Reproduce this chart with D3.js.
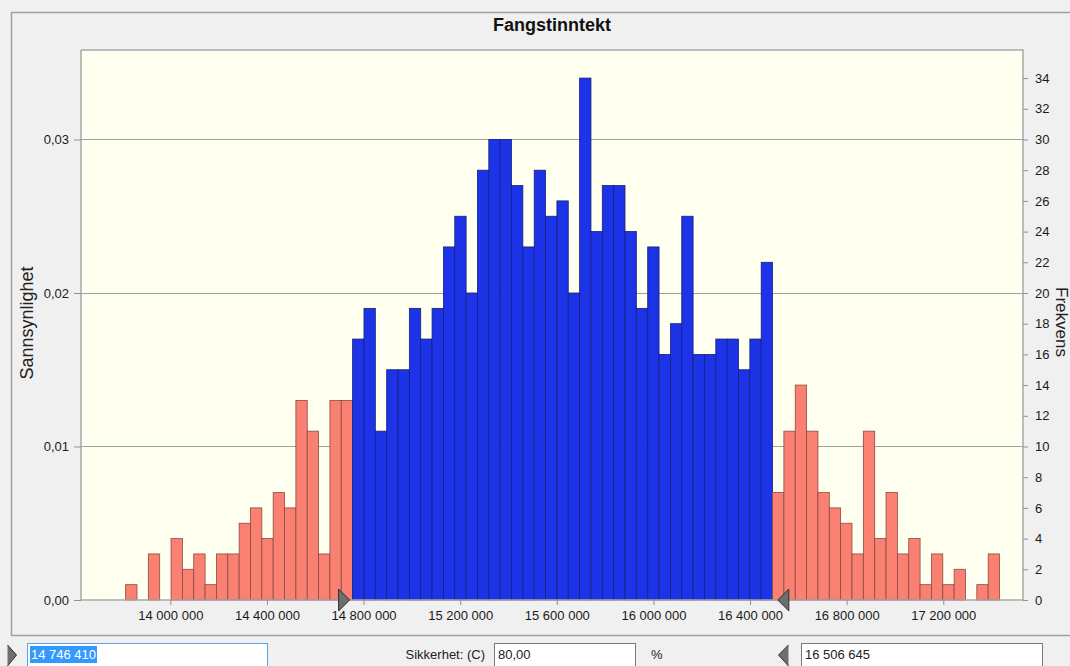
<!DOCTYPE html>
<html>
<head>
<meta charset="utf-8">
<script src="https://cdn.jsdelivr.net/npm/d3@7"></script>
<style>
  body { margin: 0; background: #f0f0f0; overflow: hidden; }
  svg { display: block; font-family: "Liberation Sans", Arial, sans-serif; }
</style>
</head>
<body>
<div id="chart"></div>
<script>
// histogram of 1000 simulated values
var counts = [
  1, 0, 3, 0, 4, 2, 3, 1, 3, 3, 5, 6, 4, 7, 6, 13, 11, 3, 13, 13,
  17, 19, 11, 15, 15, 19, 17, 19, 23, 25, 20, 28, 30, 30, 27, 23, 28, 25, 26, 20,
  34, 24, 27, 27, 24, 19, 23, 16, 18, 25, 16, 16, 17, 17, 15, 17, 22,
  7, 11, 14, 11, 7, 6, 5, 3, 11, 4, 7, 3, 4, 1, 3, 1, 2, 0, 1, 3
];
var binStart = 13815000,
    binWidth = 46985,
    nSamples = 1000;

var xTicks = [14000000, 14400000, 14800000, 15200000, 15600000, 16000000, 16400000, 16800000, 17200000];
var freqTicks = [0, 2, 4, 6, 8, 10, 12, 14, 16, 18, 20, 22, 24, 26, 28, 30, 32, 34];
var probTicks = [0, 0.01, 0.02, 0.03];

var lowerValue = 14746410,
    upperValue = 16506645,
    confidence = '80,00';

var title = 'Fangstinntekt';

var width = 1070,
    height = 666,
    plotLeft = 81,
    plotRight = 1023,
    plotTop = 50,
    plotBottom = 600;

var locale = d3.formatLocale({ decimal: ',', thousands: ' ', grouping: [3], currency: ['', ''] });
var fmtNum = locale.format(',.0f'),
    fmtProb = locale.format('.2f');

var bins = counts.map(function(c, i) {
  return { x0: binStart + i * binWidth, x1: binStart + (i + 1) * binWidth, n: c };
});

var x = d3.scaleLinear().domain([13630200, 17530000]).range([plotLeft, plotRight]);
var yFreq = d3.scaleLinear().domain([0, 35.83]).range([plotBottom, plotTop]);
var yProb = d3.scaleLinear().domain([0, 35.83 / nSamples]).range([plotBottom, plotTop]);

var svg = d3.select('#chart').append('svg')
    .attr('width', width)
    .attr('height', height);

// outer panel
svg.append('rect')
    .attr('x', 11.5).attr('y', 12.5)
    .attr('width', 1080).attr('height', 623)
    .attr('fill', '#f0f0f0')
    .attr('stroke', '#a0a0a0')
    .attr('stroke-width', 1.5);

svg.append('text')
    .text(title)
    .attr('x', 552).attr('y', 31)
    .attr('text-anchor', 'middle')
    .style('font-size', '18px')
    .style('font-weight', 'bold')
    .attr('fill', '#111');

// plot area
svg.append('rect')
    .attr('x', plotLeft).attr('y', plotTop)
    .attr('width', plotRight - plotLeft).attr('height', plotBottom - plotTop)
    .attr('fill', '#fffff0');

// grid lines at the probability ticks
svg.append('g').selectAll('line').data(probTicks.slice(1))
  .enter().append('line')
    .attr('x1', plotLeft).attr('x2', plotRight)
    .attr('y1', function(d) { return Math.round(yProb(d)) + 0.5; })
    .attr('y2', function(d) { return Math.round(yProb(d)) + 0.5; })
    .attr('stroke', '#a0a0a0')
    .attr('stroke-width', 1.2);

// bars
svg.append('g').selectAll('rect').data(bins.filter(function(d) { return d.n > 0; }))
  .enter().append('rect')
    .attr('x', function(d) { return x(d.x0); })
    .attr('y', function(d) { return yFreq(d.n); })
    .attr('width', function(d) { return x(d.x1) - x(d.x0); })
    .attr('height', function(d) { return yFreq(0) - yFreq(d.n); })
    .attr('fill', function(d) {
      var mid = (d.x0 + d.x1) / 2;
      return (mid >= lowerValue && mid <= upperValue) ? '#1c33e8' : '#fa8072';
    })
    .attr('stroke', function(d) {
      var mid = (d.x0 + d.x1) / 2;
      return (mid >= lowerValue && mid <= upperValue) ? '#16207a' : '#8a4a42';
    })
    .attr('stroke-width', 0.8);

// plot border (left, bottom, right)
svg.append('path')
    .attr('d', 'M' + plotLeft + ',' + plotTop + 'V' + plotBottom + 'H' + plotRight + 'V' + plotTop + 'H' + plotLeft)
    .attr('fill', 'none')
    .attr('stroke', '#a8a8a8')
    .attr('stroke-width', 1.5);

// axes
var xAxis = svg.append('g')
    .attr('transform', 'translate(0,' + plotBottom + ')')
    .call(d3.axisBottom(x).tickValues(xTicks).tickFormat(fmtNum).tickSizeOuter(0).tickSize(5).tickPadding(6));

var leftAxis = svg.append('g')
    .attr('transform', 'translate(' + plotLeft + ',0)')
    .call(d3.axisLeft(yProb).tickValues(probTicks).tickFormat(fmtProb).tickSizeOuter(0).tickSize(7).tickPadding(5));

var rightAxis = svg.append('g')
    .attr('transform', 'translate(' + plotRight + ',0)')
    .call(d3.axisRight(yFreq).tickValues(freqTicks).tickSizeOuter(0).tickSize(5).tickPadding(7));

[xAxis, leftAxis, rightAxis].forEach(function(g) {
  g.select('.domain').remove();
  g.selectAll('line').attr('stroke', '#909090');
  g.selectAll('text')
    .attr('fill', '#1a1a1a')
    .style('font-size', '13px')
    .style('font-family', '"Liberation Sans", Arial, sans-serif');
});

svg.append('text')
    .text('Sannsynlighet')
    .attr('transform', 'translate(33,323) rotate(-90)')
    .attr('text-anchor', 'middle')
    .style('font-size', '18px')
    .attr('fill', '#222');

svg.append('text')
    .text('Frekvens')
    .attr('transform', 'translate(1056,322) rotate(90)')
    .attr('text-anchor', 'middle')
    .style('font-size', '17px')
    .attr('fill', '#222');

// interval markers on the x axis
var markerShape = d3.line();
function drawMarker(v, dir) {
  var tip = x(v) + (dir > 0 ? -1 : 2);
  var pts = [[tip, 600], [tip - dir * 11, 589], [tip - dir * 11, 611], [tip, 600]];
  svg.append('path')
      .attr('d', markerShape(pts))
      .attr('fill', '#6e6e6e')
      .attr('stroke', '#2e2e2e')
      .attr('stroke-width', 1);
}
drawMarker(lowerValue, 1);
drawMarker(upperValue, -1);

// bottom controls
var ctrl = svg.append('g').style('font-size', '13px');

ctrl.append('path')
    .attr('d', markerShape([[7.5, 645], [16.5, 655], [7.5, 666]]))
    .attr('fill', '#6e6e6e').attr('stroke', '#2e2e2e');
ctrl.append('rect')
    .attr('x', 27.5).attr('y', 643.5).attr('width', 240).attr('height', 30)
    .attr('fill', '#fff').attr('stroke', '#5f9fe6');
ctrl.append('rect')
    .attr('x', 30).attr('y', 646).attr('width', 67).attr('height', 17)
    .attr('fill', '#3399ff');
ctrl.append('text')
    .text(fmtNum(lowerValue))
    .attr('x', 31).attr('y', 659)
    .attr('fill', '#fff');

ctrl.append('text')
    .text('Sikkerhet: (C)')
    .attr('x', 485).attr('y', 659)
    .attr('text-anchor', 'end')
    .attr('fill', '#222');
ctrl.append('rect')
    .attr('x', 494.5).attr('y', 643.5).attr('width', 141).attr('height', 30)
    .attr('fill', '#fff').attr('stroke', '#7a7a7a');
ctrl.append('text')
    .text(confidence)
    .attr('x', 498).attr('y', 659)
    .attr('fill', '#222');
ctrl.append('text')
    .text('%')
    .attr('x', 651).attr('y', 659)
    .attr('fill', '#222');

ctrl.append('path')
    .attr('d', markerShape([[788.5, 645], [778.5, 655], [788.5, 666]]))
    .attr('fill', '#6e6e6e').attr('stroke', '#2e2e2e');
ctrl.append('rect')
    .attr('x', 801.5).attr('y', 643.5).attr('width', 241).attr('height', 30)
    .attr('fill', '#fff').attr('stroke', '#7a7a7a');
ctrl.append('text')
    .text(fmtNum(upperValue))
    .attr('x', 805).attr('y', 659)
    .attr('fill', '#222');
</script>
</body>
</html>
